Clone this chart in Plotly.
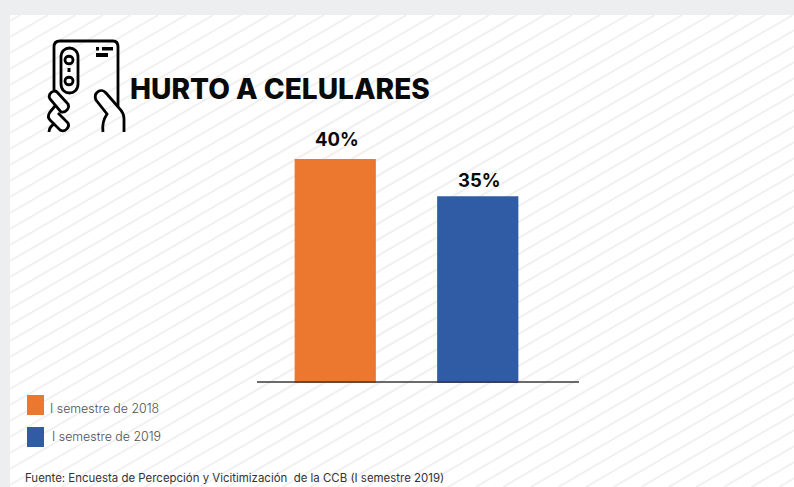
import plotly.graph_objects as go

W, H = 794, 487
periods = ["I semestre de 2018", "I semestre de 2019"]
values = [40, 35]
labels = ["40%", "35%"]
colors = ["#EC772E", "#2F5CA5"]
title = "HURTO A CELULARES"
source = "Fuente: Encuesta de Percepción y Vicitimización  de la CCB (I semestre 2019)"
FONT = "Inter"


def px(x):
    return x / W


def py(y):
    return 1 - y / H


def path(tokens):
    """Pixel-space SVG path -> paper coordinates."""
    out, is_x = [], True
    for t in tokens.split():
        if t.isalpha():
            out.append(t)
            is_x = True
        else:
            v = float(t)
            out.append(f"{px(v):.5f}" if is_x else f"{py(v):.5f}")
            is_x = not is_x
    return " ".join(out)


# hatch background clipped to the panel
PL, PT, PR, PB = 10, 15, W, H
slope, step = -0.58, 16
seg = []
c = PT - 10
while c < PB + (PR - PL) * 0.58 + 10:
    x0, x1 = PL, PR
    if c > PB:
        x0 = PL + (PB - c) / slope
    if c + slope * (x1 - PL) < PT:
        x1 = PL + (PT - c) / slope
    if x1 > x0:
        seg.append(f"M {px(x0):.5f} {py(c + slope * (x0 - PL)):.5f} L {px(x1):.5f} {py(c + slope * (x1 - PL)):.5f}")
    c += step

shapes = [
    dict(type="rect", xref="paper", yref="paper", x0=px(PL), x1=1, y0=0, y1=py(PT),
         fillcolor="#FFFFFF", line_width=0, layer="below"),
    dict(type="path", xref="paper", yref="paper", path=" ".join(seg),
         line=dict(color="#F0F0F0", width=2), layer="below"),
]

icon = [
    "M 54 90 L 54 47 C 54 43 56 41 60 41 L 113 41 C 116 41 118 43 118 47 L 118 106",
    "M 61 57 C 61 45 78 45 78 57 L 78 84 C 78 96 61 96 61 84 Z",
    "M 65 60 C 65 55 73 55 73 60 C 73 65 65 65 65 60 Z",
    "M 65 81 C 65 76 73 76 73 81 C 73 86 65 86 65 81 Z",
    "M 54 91 C 50 92 48 96 50 99 L 61 112 C 66 113 70 108 68 104 L 57 92 C 56 91 55 91 54 91 Z",
    "M 55 106 L 50 112 C 48 115 48 118 50 120 L 60 130 C 65 133 70 127 68 123 L 58 113",
    "M 49 132 C 49 128 51 126 54 124",
    "M 124 132 L 124 119 C 124 114 122 111 119 108 L 106 93 C 101 87 93 93 96 100 L 107 114 C 103 120 102 125 103 132",
]
for d in icon:
    shapes.append(dict(type="path", xref="paper", yref="paper", path=path(d),
                       line=dict(color="#000000", width=2.8), layer="above"))
for x0, y0, x1, y1 in [(96, 47, 99, 50.5), (102, 47, 113, 50.5), (96, 53, 108, 57), (67.5, 68, 70.5, 72)]:
    shapes.append(dict(type="rect", xref="paper", yref="paper", x0=px(x0), x1=px(x1), y0=py(y1), y1=py(y0),
                       fillcolor="#000000", line_width=0, layer="above"))

# legend swatches
for col, (y0, y1) in zip(colors, [(395, 415), (427, 447)]):
    shapes.append(dict(type="rect", xref="paper", yref="paper", x0=px(27), x1=px(44), y0=py(y1), y1=py(y0),
                       fillcolor=col, line_width=0, layer="above"))
# baseline
shapes.append(dict(type="line", xref="paper", yref="paper", x0=px(257), x1=px(579), y0=py(382), y1=py(382),
                   line=dict(color="#3A3A3A", width=1.3), layer="above"))


def text(x, y, s, size, color, weight=400):
    return dict(xref="paper", yref="paper", x=px(x), y=py(y), text=s, showarrow=False, xanchor="left",
                yanchor="middle", font=dict(family=FONT, size=size, color=color, weight=weight))


annotations = [
    text(128, 88.5, title, 28.1, "#0A0A0A", 800),
    text(48, 408, periods[0], 12.4, "#505050", 300),
    text(50, 436, periods[1], 12.4, "#505050", 300),
    text(23, 478, source, 11.45, "#333333", 400),
]
# value labels sit at different gaps above their bars in the reference
for p, v, lab, shift in zip(periods, values, labels, [20, 16]):
    annotations.append(dict(x=p, y=v, xref="x", yref="y", text=lab, showarrow=False, yshift=shift, xshift=1.5,
                            xanchor="center", yanchor="middle",
                            font=dict(family=FONT, size=18.5, color="#0A0A0A", weight=700)))

fig = go.Figure(go.Bar(
    x=periods, y=values, marker=dict(color=colors, line_width=0), width=0.57, showlegend=False,
))
# axis starts near 10: the drawn bars are not zero-based in the reference
fig.update_layout(
    width=W, height=H, margin=dict(l=0, r=0, t=0, b=0, autoexpand=False),
    paper_bgcolor="#ECEEF0", plot_bgcolor="rgba(0,0,0,0)",
    shapes=shapes, annotations=annotations, bargap=0.43,
    xaxis=dict(domain=[px(264), px(549)], range=[-0.5, 1.5], visible=False, fixedrange=True),
    yaxis=dict(domain=[py(383), py(110)], range=[9.9, 46.6], visible=False, fixedrange=True),
)
fig.write_html("out.html", config=dict(displayModeBar=False),
               post_script="document.body.style.margin='0';document.documentElement.style.overflow='hidden';")
